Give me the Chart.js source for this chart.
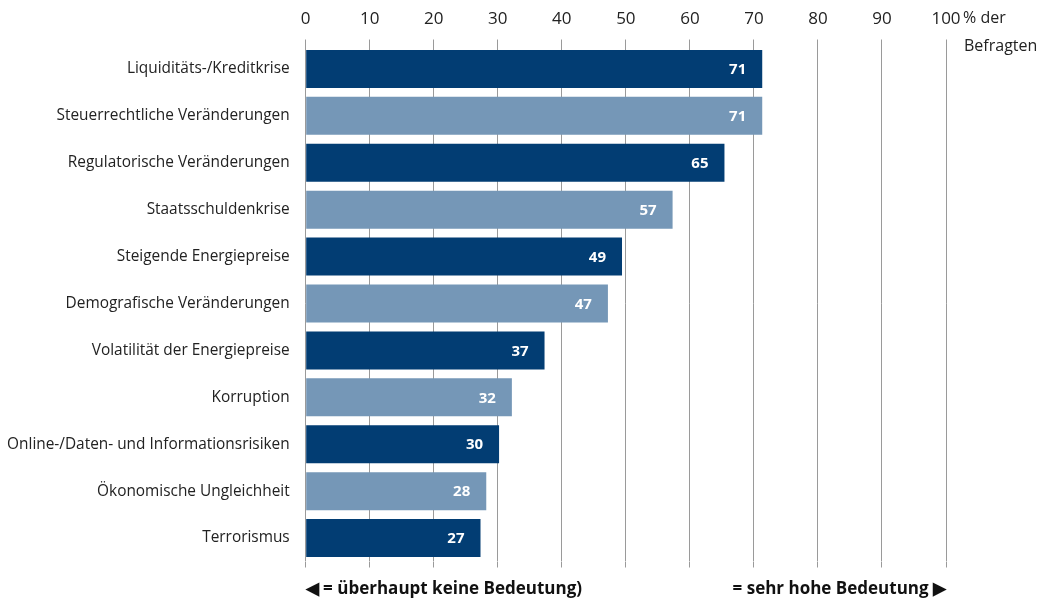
<!DOCTYPE html>
<html lang="de">
<head>
<meta charset="UTF-8">
<title>Bedeutung von Risiken</title>
<script src="https://cdn.jsdelivr.net/npm/chart.js"></script>
<style>
    body { margin: 0; background: #fff; }
    canvas { display: block; }
</style>
</head>
<body>
<canvas id="riskChart" width="1037" height="600"></canvas>
<script>
    // values (bar lengths, % der Befragten)
    const categories = [
        'Liquiditäts-/Kreditkrise',
        'Steuerrechtliche Veränderungen',
        'Regulatorische Veränderungen',
        'Staatsschuldenkrise',
        'Steigende Energiepreise',
        'Demografische Veränderungen',
        'Volatilität der Energiepreise',
        'Korruption',
        'Online-/Daten- und Informationsrisiken',
        'Ökonomische Ungleichheit',
        'Terrorismus'
    ];
    const shares = [71.3, 71.3, 65.4, 57.3, 49.4, 47.2, 37.3, 32.2, 30.2, 28.2, 27.3];
    const shownValues = [71, 71, 65, 57, 49, 47, 37, 32, 30, 28, 27];
    const xTicks = [0, 10, 20, 30, 40, 50, 60, 70, 80, 90, 100];

    const darkBlue = '#023d73';
    const lightBlue = '#7597b7';
    const FONT = '"Open Sans", sans-serif';

    // white value labels inside the bars
    const valueLabels = {
        id: 'valueLabels',
        afterDatasetsDraw(chart) {
            const ctx = chart.ctx;
            const meta = chart.getDatasetMeta(0);
            ctx.save();
            ctx.fillStyle = '#fff';
            ctx.font = 'bold 15px ' + FONT;
            ctx.textAlign = 'right';
            ctx.textBaseline = 'middle';
            meta.data.forEach((bar, i) => {
                ctx.fillText(String(shownValues[i]), bar.x - 16, bar.y + 1);
            });
            ctx.restore();
        }
    };

    // unit text and the scale explanation below the chart
    const extraText = {
        id: 'extraText',
        afterDraw(chart) {
            const ctx = chart.ctx;
            const x = chart.scales.x;
            ctx.save();
            ctx.fillStyle = '#222';
            ctx.font = '16px ' + FONT;
            ctx.textAlign = 'left';
            ctx.textBaseline = 'middle';
            ctx.fillText('% der', x.right + 17, 18);
            ctx.fillText('Befragten', x.right + 18, 46);

            ctx.fillStyle = '#111';
            ctx.font = 'bold 17px ' + FONT;
            ctx.fillText('◀ = überhaupt keine Bedeutung)', x.left, 589);
            ctx.textAlign = 'right';
            ctx.fillText('= sehr hohe Bedeutung ▶', x.right, 589);
            ctx.restore();
        }
    };

    new Chart(document.getElementById('riskChart'), {
        type: 'bar',
        data: {
            labels: categories,
            datasets: [{
                data: shares,
                backgroundColor: shares.map((v, i) => i % 2 === 0 ? darkBlue : lightBlue),
                borderWidth: 0,
                categoryPercentage: 1,
                barPercentage: 0.81
            }]
        },
        options: {
            indexAxis: 'y',
            responsive: false,
            animation: false,
            layout: { padding: { top: 0, right: 91, bottom: 0, left: 0 } },
            plugins: {
                legend: { display: false },
                tooltip: { enabled: false }
            },
            scales: {
                x: {
                    position: 'top',
                    min: 0,
                    max: 100,
                    afterBuildTicks: scale => { scale.ticks = xTicks.map(v => ({ value: v })); },
                    ticks: {
                        color: '#222',
                        font: { family: FONT, size: 17 },
                        padding: 10
                    },
                    grid: { color: '#9a9a9a', lineWidth: 1, tickLength: 6 },
                    border: { display: false },
                    afterFit: scale => { scale.height = 45.5; }
                },
                x2: {
                    position: 'bottom',
                    min: 0,
                    max: 100,
                    afterBuildTicks: scale => { scale.ticks = xTicks.map(v => ({ value: v })); },
                    ticks: { display: false },
                    grid: { color: '#9a9a9a', lineWidth: 1, tickLength: 6, drawOnChartArea: false },
                    border: { display: false },
                    afterFit: scale => { scale.height = 38.5; }
                },
                y: {
                    ticks: {
                        color: '#222',
                        font: { family: FONT, size: 15.4 },
                        padding: 8
                    },
                    grid: { display: false },
                    border: { display: false },
                    afterFit: scale => { scale.width = 305.7; }
                }
            }
        },
        plugins: [valueLabels, extraText]
    });
</script>
</body>
</html>
